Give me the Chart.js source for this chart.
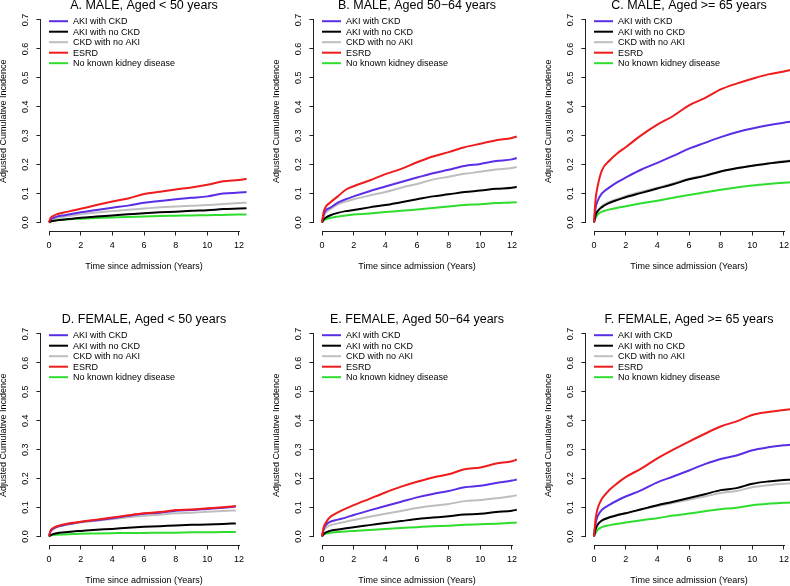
<!DOCTYPE html>
<html>
<head>
<meta charset="utf-8">
<script src="https://cdn.jsdelivr.net/npm/chart.js@4.4.0/dist/chart.umd.min.js"></script>
<style>
  html, body { margin: 0; padding: 0; background: #fff; overflow: hidden; }
  #wrap { position: relative; width: 790px; height: 586px; overflow: hidden; background: #fff; }
  #wrap canvas { position: absolute; }
</style>
</head>
<body>
<div id="wrap">
  <canvas id="panelA" width="273" height="272" style="left:0px;top:0px"></canvas>
  <canvas id="panelB" width="273" height="272" style="left:273px;top:0px"></canvas>
  <canvas id="panelC" width="273" height="272" style="left:545px;top:0px"></canvas>
  <canvas id="panelD" width="273" height="272" style="left:0px;top:314px"></canvas>
  <canvas id="panelE" width="273" height="272" style="left:273px;top:314px"></canvas>
  <canvas id="panelF" width="273" height="272" style="left:545px;top:314px"></canvas>
</div>
<script>
// ---- data ----
const SERIES_NAMES = ['AKI with CKD', 'AKI with no CKD', 'CKD with no AKI', 'ESRD', 'No known kidney disease'];
const SERIES_COLORS = ['#5b2ee6', '#000000', '#bebebe', '#ee1c1c', '#2edd2e'];
const SERIES_ORDER = [2, 1, 3, 0, 4]; // lower = drawn on top
const X_TICKS = [0, 2, 4, 6, 8, 10, 12];
const Y_TICKS = [0, 0.1, 0.2, 0.3, 0.4, 0.5, 0.6, 0.7];
const TITLES = [
  'A. MALE, Aged < 50 years', 'B. MALE, Aged 50\u221264 years', 'C. MALE, Aged >= 65 years',
  'D. FEMALE, Aged < 50 years', 'E. FEMALE, Aged 50\u221264 years', 'F. FEMALE, Aged >= 65 years'
];

// years since admission
const YEARS_A = [0, 0.1, 0.25, 0.5, 1, 1.5, 2, 3, 4, 5, 6, 7, 8, 9, 10, 11, 12, 12.5];
const YEARS_B = [0, 0.1, 0.25, 0.5, 1, 1.5, 2, 3, 4, 5, 6, 7, 8, 9, 10, 11, 12, 12.3];
const YEARS_C = [0, 0.1, 0.25, 0.5, 1, 1.5, 2, 3, 4, 5, 6, 7, 8, 9, 10, 11, 12, 12.4];
const YEARS_D = [0, 0.1, 0.25, 0.5, 1, 1.5, 2, 3, 4, 5, 6, 7, 8, 9, 10, 11, 11.8];
const YEARS_E = [0, 0.1, 0.25, 0.5, 1, 1.5, 2, 3, 4, 5, 6, 7, 8, 9, 10, 11, 12, 12.3];
const YEARS_F = [0, 0.1, 0.25, 0.5, 1, 1.5, 2, 3, 4, 5, 6, 7, 8, 9, 10, 11, 12, 12.4];

// A. male < 50
const A_AKI_CKD   = [0, 0.010, 0.015, 0.020, 0.025, 0.030, 0.035, 0.043, 0.051, 0.058, 0.068, 0.074, 0.080, 0.085, 0.090, 0.100, 0.103, 0.105];
const A_AKI_NOCKD = [0, 0.003, 0.005, 0.007, 0.010, 0.013, 0.016, 0.020, 0.024, 0.028, 0.032, 0.035, 0.037, 0.040, 0.042, 0.046, 0.048, 0.049];
const A_CKD_NOAKI = [0, 0.008, 0.012, 0.016, 0.020, 0.024, 0.028, 0.034, 0.039, 0.044, 0.048, 0.052, 0.055, 0.058, 0.060, 0.064, 0.067, 0.068];
const A_ESRD      = [0, 0.015, 0.022, 0.028, 0.035, 0.041, 0.047, 0.060, 0.072, 0.083, 0.098, 0.106, 0.114, 0.121, 0.130, 0.142, 0.147, 0.151];
const A_NONE      = [0, 0.004, 0.006, 0.008, 0.010, 0.012, 0.013, 0.015, 0.017, 0.019, 0.020, 0.022, 0.023, 0.024, 0.025, 0.026, 0.027, 0.027];

// B. male 50-64
const B_AKI_CKD   = [0, 0.025, 0.042, 0.050, 0.068, 0.080, 0.090, 0.108, 0.124, 0.140, 0.155, 0.170, 0.182, 0.195, 0.202, 0.212, 0.218, 0.223];
const B_AKI_NOCKD = [0, 0.010, 0.017, 0.024, 0.033, 0.039, 0.043, 0.052, 0.060, 0.070, 0.080, 0.090, 0.097, 0.105, 0.110, 0.116, 0.120, 0.123];
const B_CKD_NOAKI = [0, 0.020, 0.035, 0.045, 0.062, 0.072, 0.080, 0.093, 0.105, 0.120, 0.133, 0.148, 0.158, 0.168, 0.175, 0.183, 0.188, 0.192];
const B_ESRD      = [0, 0.035, 0.055, 0.068, 0.090, 0.113, 0.125, 0.145, 0.167, 0.185, 0.208, 0.228, 0.243, 0.260, 0.272, 0.284, 0.292, 0.297];
const B_NONE      = [0, 0.006, 0.011, 0.015, 0.020, 0.024, 0.027, 0.031, 0.036, 0.040, 0.045, 0.050, 0.055, 0.060, 0.063, 0.067, 0.069, 0.070];

// C. male >= 65
const C_AKI_CKD   = [0, 0.050, 0.077, 0.100, 0.122, 0.140, 0.155, 0.183, 0.206, 0.230, 0.255, 0.275, 0.295, 0.312, 0.325, 0.336, 0.345, 0.348];
const C_AKI_NOCKD = [0, 0.025, 0.040, 0.053, 0.068, 0.078, 0.087, 0.102, 0.117, 0.132, 0.149, 0.161, 0.176, 0.187, 0.196, 0.204, 0.210, 0.212];
const C_CKD_NOAKI = [0, 0.027, 0.043, 0.057, 0.072, 0.082, 0.091, 0.106, 0.120, 0.135, 0.151, 0.163, 0.177, 0.187, 0.196, 0.204, 0.212, 0.214];
const C_ESRD      = [0, 0.080, 0.130, 0.180, 0.215, 0.240, 0.260, 0.302, 0.338, 0.368, 0.405, 0.430, 0.460, 0.480, 0.497, 0.512, 0.522, 0.527];
const C_NONE      = [0, 0.015, 0.028, 0.037, 0.045, 0.051, 0.056, 0.066, 0.075, 0.085, 0.095, 0.104, 0.113, 0.121, 0.128, 0.133, 0.137, 0.139];

// D. female < 50
const D_AKI_CKD   = [0, 0.018, 0.026, 0.033, 0.040, 0.045, 0.050, 0.056, 0.063, 0.071, 0.078, 0.082, 0.089, 0.091, 0.095, 0.099, 0.103];
const D_AKI_NOCKD = [0, 0.004, 0.008, 0.011, 0.014, 0.017, 0.019, 0.023, 0.026, 0.030, 0.033, 0.035, 0.038, 0.040, 0.041, 0.043, 0.045];
const D_CKD_NOAKI = [0, 0.017, 0.025, 0.032, 0.039, 0.044, 0.048, 0.054, 0.060, 0.066, 0.071, 0.075, 0.080, 0.082, 0.085, 0.088, 0.090];
const D_ESRD      = [0, 0.020, 0.028, 0.035, 0.042, 0.047, 0.051, 0.058, 0.065, 0.073, 0.080, 0.084, 0.091, 0.093, 0.097, 0.101, 0.105];
const D_NONE      = [0, 0.003, 0.005, 0.006, 0.007, 0.008, 0.009, 0.010, 0.011, 0.012, 0.012, 0.013, 0.013, 0.014, 0.014, 0.015, 0.015];

// E. female 50-64
const E_AKI_CKD   = [0, 0.025, 0.040, 0.050, 0.058, 0.065, 0.074, 0.090, 0.105, 0.120, 0.135, 0.147, 0.157, 0.170, 0.175, 0.185, 0.193, 0.197];
const E_AKI_NOCKD = [0, 0.008, 0.014, 0.019, 0.024, 0.028, 0.032, 0.039, 0.046, 0.053, 0.060, 0.065, 0.070, 0.076, 0.078, 0.084, 0.089, 0.092];
const E_CKD_NOAKI = [0, 0.018, 0.030, 0.038, 0.045, 0.051, 0.057, 0.068, 0.078, 0.088, 0.098, 0.106, 0.112, 0.122, 0.126, 0.132, 0.139, 0.142];
const E_ESRD      = [0, 0.030, 0.048, 0.066, 0.083, 0.096, 0.108, 0.130, 0.152, 0.172, 0.189, 0.204, 0.215, 0.232, 0.238, 0.252, 0.260, 0.266];
const E_NONE      = [0, 0.006, 0.010, 0.013, 0.015, 0.017, 0.019, 0.022, 0.026, 0.029, 0.032, 0.035, 0.037, 0.040, 0.042, 0.044, 0.047, 0.048];

// F. female >= 65
const F_AKI_CKD   = [0, 0.045, 0.072, 0.092, 0.110, 0.125, 0.138, 0.160, 0.187, 0.207, 0.228, 0.250, 0.268, 0.280, 0.298, 0.308, 0.315, 0.317];
const F_AKI_NOCKD = [0, 0.025, 0.042, 0.055, 0.066, 0.074, 0.080, 0.094, 0.108, 0.120, 0.133, 0.146, 0.160, 0.167, 0.182, 0.190, 0.195, 0.196];
const F_CKD_NOAKI = [0, 0.027, 0.044, 0.056, 0.067, 0.074, 0.080, 0.093, 0.105, 0.116, 0.127, 0.138, 0.150, 0.157, 0.170, 0.177, 0.182, 0.183];
const F_ESRD      = [0, 0.060, 0.100, 0.130, 0.162, 0.185, 0.205, 0.235, 0.270, 0.300, 0.328, 0.355, 0.380, 0.398, 0.420, 0.430, 0.437, 0.440];
const F_NONE      = [0, 0.012, 0.024, 0.032, 0.039, 0.044, 0.048, 0.056, 0.063, 0.072, 0.079, 0.087, 0.094, 0.099, 0.108, 0.113, 0.116, 0.117];

const PANELS = [
  { id: 'panelA', years: YEARS_A, series: [A_AKI_CKD, A_AKI_NOCKD, A_CKD_NOAKI, A_ESRD, A_NONE] },
  { id: 'panelB', years: YEARS_B, series: [B_AKI_CKD, B_AKI_NOCKD, B_CKD_NOAKI, B_ESRD, B_NONE] },
  { id: 'panelC', years: YEARS_C, series: [C_AKI_CKD, C_AKI_NOCKD, C_CKD_NOAKI, C_ESRD, C_NONE] },
  { id: 'panelD', years: YEARS_D, series: [D_AKI_CKD, D_AKI_NOCKD, D_CKD_NOAKI, D_ESRD, D_NONE] },
  { id: 'panelE', years: YEARS_E, series: [E_AKI_CKD, E_AKI_NOCKD, E_CKD_NOAKI, E_ESRD, E_NONE] },
  { id: 'panelF', years: YEARS_F, series: [F_AKI_CKD, F_AKI_NOCKD, F_CKD_NOAKI, F_ESRD, F_NONE] }
];

// ---- look ----
const FONT = '"Liberation Sans", Arial, Helvetica, sans-serif';
const AXIS_COLOR = '#222';
Chart.defaults.font.family = FONT;
Chart.defaults.color = '#000';

// R-style decorations: axis lines only over the tick range, title, legend inside the plot
const rPanel = {
  id: 'rPanel',
  afterDraw(chart, args, opts) {
    const { ctx, chartArea, scales: { x, y } } = chart;
    ctx.save();

    // axis lines
    ctx.strokeStyle = AXIS_COLOR;
    ctx.lineWidth = 1;
    const by = Math.round(chartArea.bottom) + 0.5;
    const lx = Math.round(chartArea.left) - 0.5;
    ctx.beginPath();
    ctx.moveTo(Math.round(x.getPixelForValue(X_TICKS[0])), by);
    ctx.lineTo(Math.round(x.getPixelForValue(X_TICKS[X_TICKS.length - 1])) + 1, by);
    ctx.moveTo(lx, Math.round(y.getPixelForValue(Y_TICKS[0])) + 1);
    ctx.lineTo(lx, Math.round(y.getPixelForValue(Y_TICKS[Y_TICKS.length - 1])));
    ctx.stroke();

    // title
    ctx.fillStyle = '#000';
    ctx.font = '12.5px ' + FONT;
    ctx.textAlign = 'center';
    ctx.textBaseline = 'alphabetic';
    ctx.fillText(opts.title, (chartArea.left + chartArea.right) / 2, chartArea.top - 2.6);

    // legend
    const x0 = x.getPixelForValue(0);
    ctx.font = '9px ' + FONT;
    ctx.textAlign = 'left';
    ctx.textBaseline = 'middle';
    SERIES_NAMES.forEach((name, i) => {
      const ly = chartArea.top + 9.3 + i * 10.5;
      ctx.strokeStyle = SERIES_COLORS[i];
      ctx.lineWidth = 2;
      ctx.beginPath();
      ctx.moveTo(x0, ly);
      ctx.lineTo(x0 + 19, ly);
      ctx.stroke();
      ctx.fillStyle = '#000';
      ctx.fillText(name, x0 + 24, ly + 0.5);
    });
    ctx.restore();
  }
};

function buildPanel(panel, idx) {
  const datasets = panel.series.map((vals, i) => ({
    label: SERIES_NAMES[i],
    data: panel.years.map((t, k) => ({ x: t, y: vals[k] })),
    borderColor: SERIES_COLORS[i],
    borderWidth: 2,
    pointRadius: 0,
    fill: false,
    cubicInterpolationMode: 'monotone',
    order: SERIES_ORDER[i]
  }));

  const tickFont = { family: FONT, size: 9, lineHeight: '10px' };

  new Chart(document.getElementById(panel.id), {
    type: 'line',
    data: { datasets },
    options: {
      responsive: false,
      animation: false,
      devicePixelRatio: 1,
      layout: { padding: { top: 11.9, right: 26.4, left: 0, bottom: 0 } },
      plugins: {
        legend: { display: false },
        tooltip: { enabled: false },
        rPanel: { title: TITLES[idx] }
      },
      scales: {
        x: {
          type: 'linear',
          min: -0.48,
          max: 12.48,
          afterBuildTicks: (s) => { s.ticks = X_TICKS.map(v => ({ value: v })); },
          afterFit: (s) => { s.height = 41.5; },
          ticks: { font: tickFont, color: '#000', padding: 5.5, autoSkip: false, maxRotation: 0,
                   callback: (v) => String(v) },
          grid: { display: true, drawOnChartArea: false, drawTicks: true, tickLength: 5, color: AXIS_COLOR },
          border: { display: false },
          title: { display: true, text: 'Time since admission (Years)', color: '#000', padding: 0,
                   font: { family: FONT, size: 9, lineHeight: '10px' } }
        },
        y: {
          type: 'linear',
          min: -0.028,
          max: 0.728,
          afterBuildTicks: (s) => { s.ticks = Y_TICKS.map(v => ({ value: v })); },
          afterFit: (s) => { s.width = 41.4; },
          ticks: { font: tickFont, color: '#000', padding: 5, autoSkip: false,
                   minRotation: 90, maxRotation: 90, crossAlign: 'center',
                   callback: (v) => Number(v).toFixed(1) },
          grid: { display: true, drawOnChartArea: false, drawTicks: true, tickLength: 5, color: AXIS_COLOR },
          border: { display: false },
          title: { display: true, text: 'Adjusted Cumulative Incidence', color: '#000', padding: 0,
                   font: { family: FONT, size: 9, lineHeight: '8px' } }
        }
      }
    },
    plugins: [rPanel]
  });
}

PANELS.forEach(buildPanel);
</script>
</body>
</html>
